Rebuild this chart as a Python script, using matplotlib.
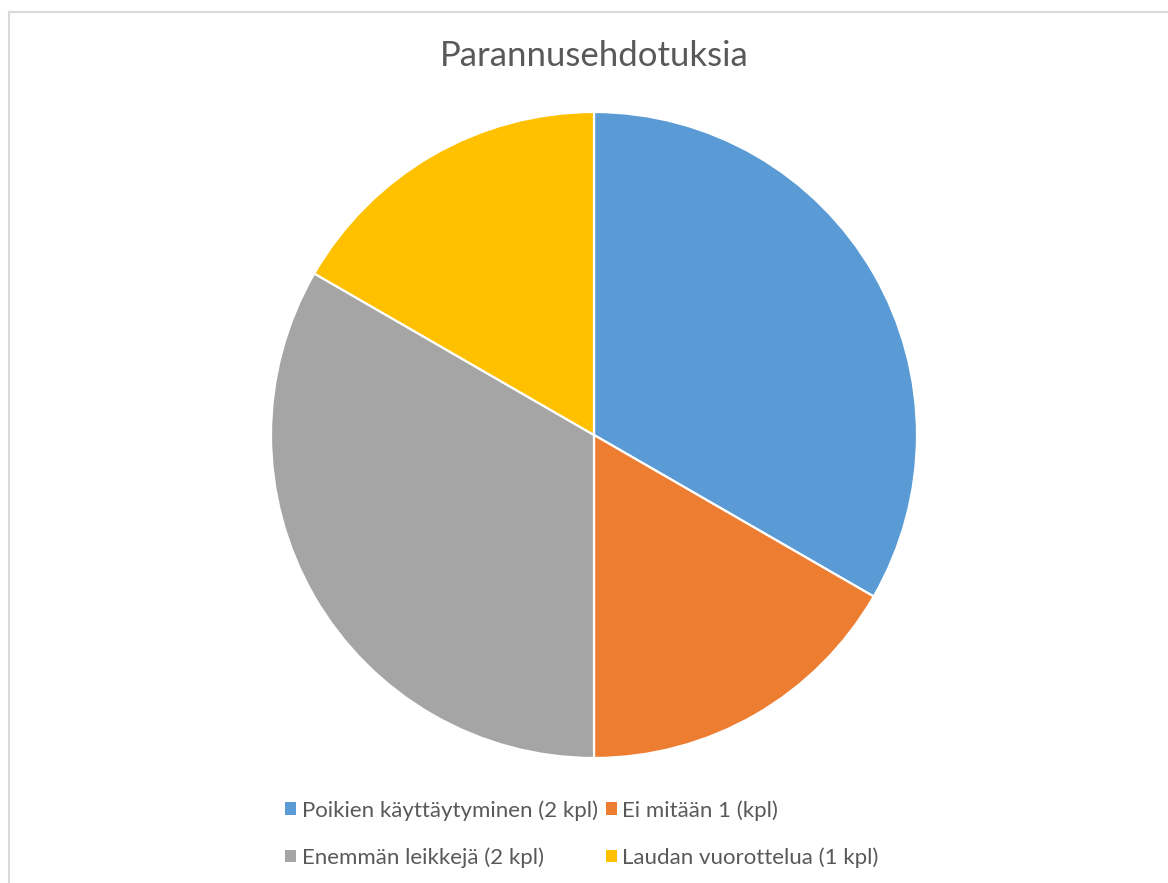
import matplotlib
matplotlib.use("Agg")
import matplotlib.pyplot as plt
from matplotlib.patches import Patch
from matplotlib.lines import Line2D

categories = ["Poikien käyttäytyminen (2 kpl)", "Ei mitään 1 (kpl)",
              "Enemmän leikkejä (2 kpl)", "Laudan vuorottelua (1 kpl)"]
values = [2, 1, 2, 1]
colors = ["#5B9BD5", "#ED7D31", "#A5A5A5", "#FFC000"]
title = "Parannusehdotuksia"

plt.rcParams['font.family'] = ['Lato', 'DejaVu Sans']

W, H = 1168, 883
fig = plt.figure(figsize=(W / 100, H / 100), dpi=100)
fig.patch.set_facecolor("white")

cx, cy, r = 594, 435, 323
ax = fig.add_axes([(cx - r) / W, (H - cy - r) / H, 2 * r / W, 2 * r / H])
ax.pie(values, colors=colors, startangle=90, counterclock=False, radius=1,
       wedgeprops=dict(edgecolor="white", linewidth=1.6))
ax.set_xlim(-1, 1)
ax.set_ylim(-1, 1)
ax.set_aspect("equal")
ax.axis("off")

fig.text(cx / W, 1 - 56 / H, title, ha="center", va="center",
         fontsize=25, color="#595959")

# border lines
fig.add_artist(Line2D([8.5 / W, 8.5 / W], [0, 1 - 11.5 / H], color="#D9D9D9", lw=1.5))
fig.add_artist(Line2D([8.5 / W, 1], [1 - 11.5 / H, 1 - 11.5 / H], color="#D9D9D9", lw=1.5))

# legend filled row by row (matplotlib fills column-major)
order = [0, 2, 1, 3]
handles = [Patch(facecolor=colors[i], edgecolor="none") for i in order]
labels = [categories[i] for i in order]
leg = fig.legend(handles, labels, ncol=2, loc="center",
                 bbox_to_anchor=(582 / W, 1 - 834 / H), frameon=False,
                 fontsize=16, handlelength=0.5, handleheight=0.5,
                 handletextpad=0.25, columnspacing=0.35, labelspacing=1.2,
                 labelcolor="#595959")

fig.savefig("out.png", dpi=100, facecolor="white")
